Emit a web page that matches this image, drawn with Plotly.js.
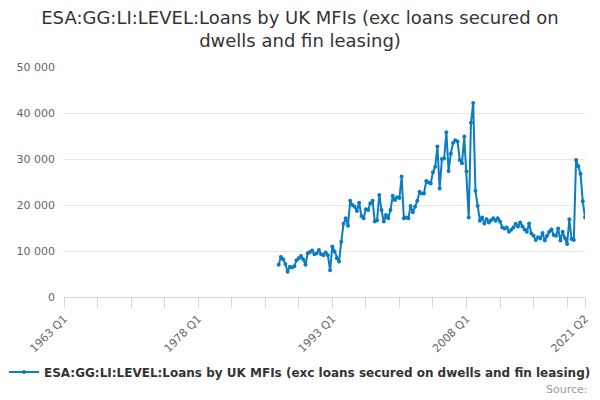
<!DOCTYPE html>
<html>
<head>
<meta charset="utf-8">
<script src="https://cdn.plot.ly/plotly-3.0.1.min.js"></script>
<style>
	html, body { margin: 0; padding: 0; background: #fff; }
	#chart { width: 600px; height: 400px; }
</style>
</head>
<body>
<div id="chart"></div>
<script>
(function () {

	'use strict';

	// axis categories run quarterly from 1963 Q1 to 2021 Q2
	const firstYear = 1963;
	const lastYear = 2021;
	const lastQuarter = 2;

	// series starts at 1987 Q1
	const seriesStart = '1987 Q1';
	const seriesName = 'ESA:GG:LI:LEVEL:Loans by UK MFIs (exc loans secured on dwells and fin leasing)';

	const seriesValues = [
		7000, 8700, 8200, 7200, 5500, 6600, 6400, 6700, 8000, 8400,
		8900, 8200, 7000, 9500, 9800, 10100, 9300, 9500, 10200, 9300,
		9100, 9700, 9100, 5800, 11000, 9900, 8400, 7700, 12000, 15900,
		17100, 15500, 20900, 20000, 19600, 18700, 20500, 17600, 17100, 19100,
		18900, 20400, 20900, 16400, 16700, 22200, 18900, 16400, 17800, 17100,
		18900, 22000, 21100, 21700, 21500, 26200, 17100, 17300, 17100, 19800,
		18400, 19600, 20900, 22900, 22500, 22500, 25200, 24900, 24700, 27100,
		28300, 32700, 23600, 30000, 30100, 35800, 27400, 31200, 33500, 34100,
		33800, 29800, 29100, 34900, 27300, 17300, 37900, 42200, 23100, 19800,
		16600, 17300, 16000, 16900, 16200, 16700, 17100, 16600, 17100, 16400,
		15100, 14900, 15100, 14200, 14600, 15100, 15900, 15300, 16200, 15300,
		14700, 14200, 16000, 13800, 13300, 12400, 13000, 12700, 13900, 12300,
		13300, 14200, 14700, 13500, 13300, 14900, 12300, 14200, 12800, 11500,
		16900, 12600, 12400, 29800, 28400, 26800, 20800, 17300
	];

	// labelled ticks, the rest of the ticks are plain marks
	const labelledTicks = [ '1963 Q1', '1978 Q1', '1993 Q1', '2008 Q1', '2021 Q2' ];
	const tickStep = 15;

	/**
	* quarter labels for the category axis
	*/
	const categories = [];
	for ( let y = firstYear; y <= lastYear; y++ ) {
		for ( let q = 1; q <= 4; q++ ) {
			if ( y === lastYear && q > lastQuarter ) break;
			categories.push( `${y} Q${q}` );
		}
	}

	const startIndex = categories.indexOf( seriesStart );
	const seriesX = categories.slice( startIndex, startIndex + seriesValues.length );

	// tick marks every 15 quarters and one on the last category
	const tickVals = categories.filter( ( c, i ) => i % tickStep === 0 );
	tickVals.push( categories[ categories.length - 1 ] );
	const tickText = tickVals.map( c => labelledTicks.includes( c ) ? c : '' );

	const blue = '#0b7cc1';
	const font = 'DejaVu Sans, Verdana, sans-serif';

	const trace = {
		x: seriesX,
		y: seriesValues,
		name: seriesName,
		type: 'scatter',
		mode: 'lines+markers',
		line: { color: blue, width: 2 },
		marker: { color: blue, size: 4 },
		showlegend: true
	};

	const layout = {
		width: 600,
		height: 400,
		paper_bgcolor: '#fff',
		plot_bgcolor: '#fff',
		separators: '. ',
		margin: { l: 64, r: 15, t: 67, b: 103 },
		font: { family: font, color: '#666', size: 11 },
		title: {
			text: 'ESA:GG:LI:LEVEL:Loans by UK MFIs (exc loans secured on<br>dwells and fin leasing)',
			font: { family: font, size: 18, color: '#333' },
			x: 0.5,
			xanchor: 'center',
			yref: 'container',
			y: 0.94,
			yanchor: 'top'
		},
		xaxis: {
			type: 'category',
			categoryorder: 'array',
			categoryarray: categories,
			range: [ 0, categories.length - 1 ],
			tickmode: 'array',
			tickvals: tickVals,
			ticktext: tickText,
			tickangle: -45,
			ticks: 'outside',
			ticklen: 10,
			tickcolor: '#ccd6eb',
			showline: true,
			linecolor: '#ccd6eb',
			linewidth: 1,
			showgrid: false,
			zeroline: false,
			tickfont: { family: font, size: 11, color: '#666' }
		},
		yaxis: {
			range: [ 0, 50000 ],
			dtick: 10000,
			tick0: 0,
			tickformat: ',d',
			showgrid: true,
			gridcolor: '#e6e6e6',
			zeroline: false,
			ticks: '',
			ticklabelstandoff: 8,
			tickfont: { family: font, size: 11, color: '#666' }
		},
		showlegend: true,
		legend: {
			orientation: 'h',
			xref: 'container',
			x: 0.5,
			xanchor: 'center',
			yref: 'container',
			y: 0.07,
			yanchor: 'middle',
			itemwidth: 30,
			font: { family: font, size: 12, color: '#333', weight: 'bold' }
		},
		annotations: [ {
			text: 'Source:',
			xref: 'paper',
			yref: 'paper',
			x: 1.01,
			xanchor: 'right',
			y: -0.404,
			yanchor: 'middle',
			showarrow: false,
			font: { family: font, size: 11, color: '#999' }
		} ]
	};

	Plotly.newPlot( 'chart', [ trace ], layout, { displayModeBar: false, staticPlot: true } );

})();
</script>
</body>
</html>
